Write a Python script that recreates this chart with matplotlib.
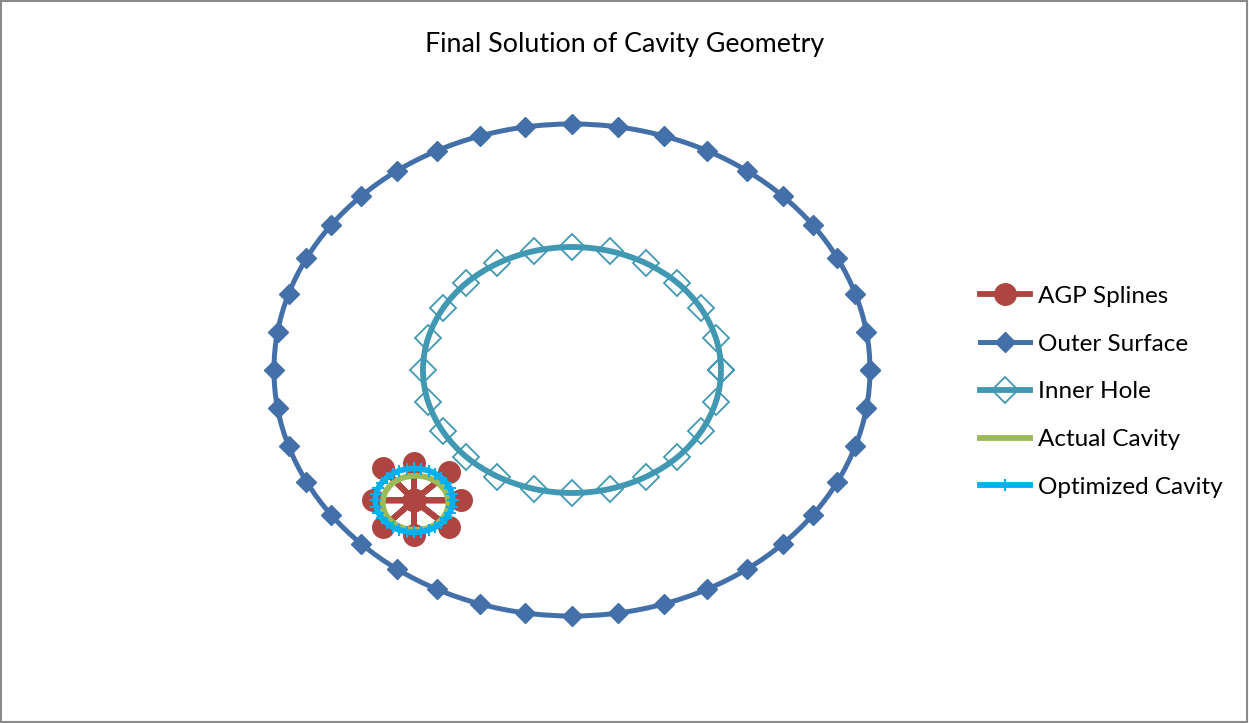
"""Final solution of cavity geometry (recreated chart)."""

import matplotlib
matplotlib.use("Agg")
import numpy as np
import matplotlib.pyplot as plt
from matplotlib.lines import Line2D
from matplotlib.patches import PathPatch, Rectangle
from matplotlib.path import Path

plt.rcParams["font.family"] = ["Lato", "DejaVu Sans"]

# outer surface points (every 9 deg, closed)
outer_x = [10, 9.88, 9.51, 8.91, 8.09, 7.07, 5.88, 4.54, 3.09, 1.56, 0,
           -1.56, -3.09, -4.54, -5.88, -7.07, -8.09, -8.91, -9.51, -9.88, -10,
           -9.88, -9.51, -8.91, -8.09, -7.07, -5.88, -4.54, -3.09, -1.56, 0,
           1.56, 3.09, 4.54, 5.88, 7.07, 8.09, 8.91, 9.51, 9.88, 10]
outer_y = [0, 1.56, 3.09, 4.54, 5.88, 7.07, 8.09, 8.91, 9.51, 9.88, 10,
           9.88, 9.51, 8.91, 8.09, 7.07, 5.88, 4.54, 3.09, 1.56, 0,
           -1.56, -3.09, -4.54, -5.88, -7.07, -8.09, -8.91, -9.51, -9.88, -10,
           -9.88, -9.51, -8.91, -8.09, -7.07, -5.88, -4.54, -3.09, -1.56, 0]

# inner hole points (every 15 deg, closed)
inner_x = [5, 4.83, 4.33, 3.54, 2.5, 1.29, 0, -1.29, -2.5, -3.54, -4.33, -4.83, -5,
           -4.83, -4.33, -3.54, -2.5, -1.29, 0, 1.29, 2.5, 3.54, 4.33, 4.83, 5]
inner_y = [0, 1.29, 2.5, 3.54, 4.33, 4.83, 5, 4.83, 4.33, 3.54, 2.5, 1.29, 0,
           -1.29, -2.5, -3.54, -4.33, -4.83, -5, -4.83, -4.33, -3.54, -2.5, -1.29, 0]

# AGP splines: spokes out from the cavity centre
agp_x = [-5.3, -3.72, -5.3, -4.13, -5.3, -5.3, -5.3, -6.35, -5.3,
         -6.68, -5.3, -6.34, -5.3, -5.3, -5.3, -4.13, -5.3]
agp_y = [-5.3, -5.3, -5.3, -4.16, -5.3, -3.8, -5.3, -4.0, -5.3,
         -5.3, -5.3, -6.4, -5.3, -6.72, -5.3, -6.4, -5.3]

# actual cavity
actual_x = [-4.15, -4.23, -4.47, -4.83, -5.25, -5.67, -6.03, -6.27, -6.35,
            -6.27, -6.03, -5.67, -5.25, -4.83, -4.47, -4.23, -4.15]
actual_y = [-5.4, -4.98, -4.62, -4.38, -4.30, -4.38, -4.62, -4.98, -5.4,
            -5.82, -6.18, -6.42, -6.50, -6.42, -6.18, -5.82, -5.4]

# optimized cavity
opt_x = [-4.00, -4.03, -4.10, -4.22, -4.38, -4.58, -4.80, -5.05, -5.30,
         -5.55, -5.80, -6.02, -6.22, -6.38, -6.50, -6.57, -6.60, -6.57,
         -6.50, -6.38, -6.22, -6.02, -5.80, -5.55, -5.30, -5.05, -4.80,
         -4.58, -4.38, -4.22, -4.10, -4.03, -4.00]
opt_y = [-5.30, -5.05, -4.80, -4.58, -4.38, -4.22, -4.10, -4.03, -4.00,
         -4.03, -4.10, -4.22, -4.38, -4.58, -4.80, -5.05, -5.30, -5.55,
         -5.80, -6.02, -6.22, -6.38, -6.50, -6.57, -6.60, -6.57, -6.50,
         -6.38, -6.22, -6.02, -5.80, -5.55, -5.30]


def smooth_closed(xs, ys):
    # Excel-style smoothed line through closed point list (Catmull-Rom as Bezier)
    pts = np.column_stack([xs, ys])[:-1]
    n = len(pts)
    verts = [pts[0]]
    codes = [Path.MOVETO]
    for i in range(n):
        p0, p1 = pts[i - 1], pts[i]
        p2, p3 = pts[(i + 1) % n], pts[(i + 2) % n]
        verts += [p1 + (p2 - p0) / 6, p2 - (p3 - p1) / 6, p2]
        codes += [Path.CURVE4] * 3
    return Path(verts, codes)


def main() -> None:
    fig = plt.figure(figsize=(12.49, 7.23), dpi=100)
    ax = fig.add_axes([0.1955, 0.114, 0.5249, 0.7485])

    styles = [
        ("AGP Splines", dict(color="#AE4540", lw=4.2, marker="o", ms=15.5)),
        ("Outer Surface", dict(color="#4470AA", lw=3.6, marker="D", ms=10.5)),
        ("Inner Hole", dict(color="#4198B2", lw=4.2, marker="D", ms=13.5,
                            mfc="none", mew=1.3)),
        ("Actual Cavity", dict(color="#9BBB59", lw=4.2, marker="None")),
        ("Optimized Cavity", dict(color="#00B0F0", lw=4.2, marker="+", ms=9,
                                  mew=1.5)),
    ]
    series = [(agp_x, agp_y), (outer_x, outer_y), (inner_x, inner_y),
              (actual_x, actual_y), (opt_x, opt_y)]

    handles = []
    for i, ((label, st), (xs, ys)) in enumerate(zip(styles, series)):
        z = 2 + i
        if label == "AGP Splines":
            ax.plot(xs, ys, solid_capstyle="round", zorder=z, **st)
        else:
            ax.add_patch(PathPatch(smooth_closed(xs, ys), fill=False,
                                   edgecolor=st["color"], lw=st["lw"], zorder=z))
            mk = {k: v for k, v in st.items() if k != "lw"}
            ax.plot(xs, ys, ls="none", zorder=z + 0.5, **mk)
        handles.append(Line2D([], [], label=label, **st))

    ax.set_xlim(-11, 11)
    ax.set_ylim(-11, 11)
    ax.axis("off")

    fig.suptitle("Final Solution of Cavity Geometry", y=0.956, fontsize=19.3)
    fig.legend(handles=handles, loc="center left", bbox_to_anchor=(0.767, 0.458),
               frameon=False, fontsize=17.5, handlelength=2.06,
               handletextpad=0.33, labelspacing=1.1)

    fig.add_artist(Rectangle((0.001, 0.002), 0.997, 0.996, transform=fig.transFigure,
                             fill=False, edgecolor="#8A8A8A", lw=1.5))

    fig.savefig("out.png", dpi=100)
    plt.close(fig)


if __name__ == "__main__":
    main()
